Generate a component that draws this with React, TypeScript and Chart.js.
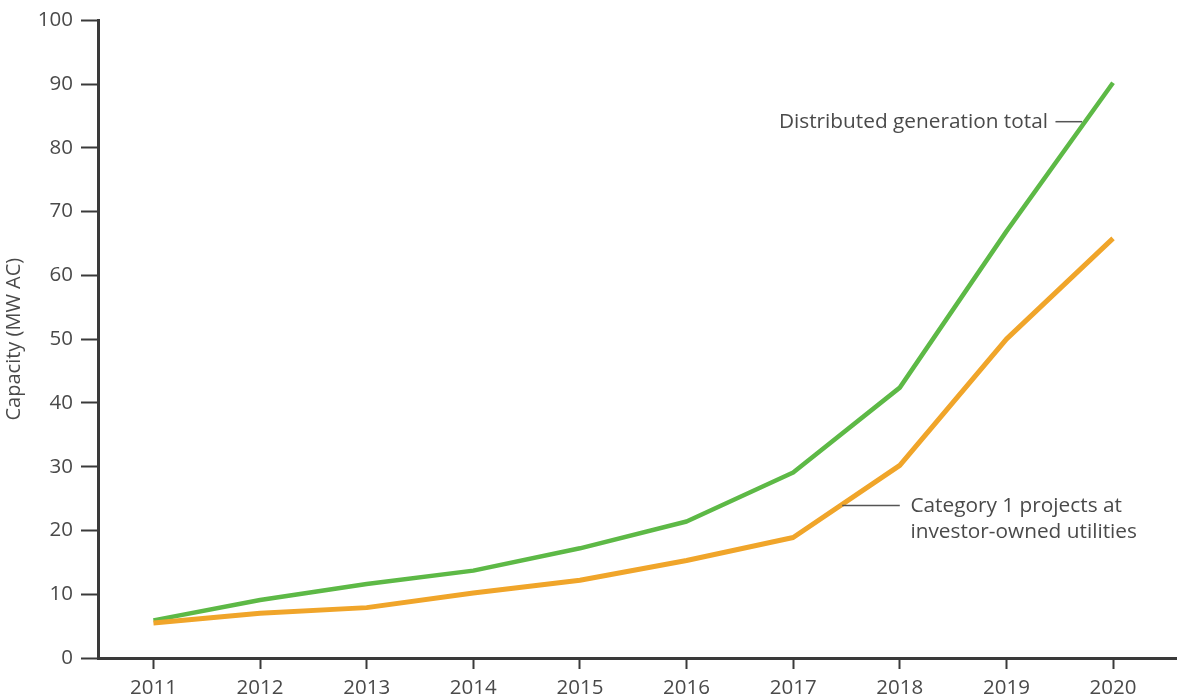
import React, { useEffect, useRef } from "react";
import { Chart, registerables } from "chart.js";

Chart.register(...registerables);

const years = [2011, 2012, 2013, 2014, 2015, 2016, 2017, 2018, 2019, 2020];
const distributedTotal = [5.9, 9.1, 11.6, 13.7, 17.2, 21.4, 29.1, 42.4, 66.9, 90.2];
const category1IOU = [5.5, 7.0, 7.9, 10.2, 12.2, 15.3, 18.9, 30.2, 50.0, 65.8];
const yTicks = [0, 10, 20, 30, 40, 50, 60, 70, 80, 90, 100];

const seriesLabels = ["Distributed generation total", "Category 1 projects at investor-owned utilities"];
const annotationTexts = [
  ["Distributed generation total"],
  ["Category 1 projects at", "investor-owned utilities"],
];
// leader line (x1, x2, y) and text anchor in data units
const annotationSpots = [
  { x1: 2019.46, x2: 2019.71, y: 84.1, tx: 2019.39, align: "right" },
  { x1: 2017.46, x2: 2018.0, y: 23.9, tx: 2018.1, align: "left" },
];

const FONT = "'Open Sans', Lato, sans-serif";
const TEXT = "#4a4a4a";
const AXIS = "#3a3a3a";

const annotationPlugin = {
  id: "leaderLabels",
  afterDatasetsDraw(chart: any) {
    const { ctx, scales } = chart;
    const xs = scales.x;
    const ys = scales.y;
    ctx.save();
    annotationSpots.forEach((s, i) => {
      const y = ys.getPixelForValue(s.y);
      ctx.strokeStyle = "#555";
      ctx.lineWidth = 1.5;
      ctx.beginPath();
      ctx.moveTo(xs.getPixelForValue(s.x1), y);
      ctx.lineTo(xs.getPixelForValue(s.x2), y);
      ctx.stroke();
      ctx.fillStyle = TEXT;
      ctx.font = `20.8px ${FONT}`;
      ctx.textBaseline = "middle";
      ctx.textAlign = s.align as CanvasTextAlign;
      const tx = xs.getPixelForValue(s.tx);
      annotationTexts[i].forEach((line, j) => {
        ctx.fillText(line, tx, y + j * 26);
      });
    });
    ctx.restore();
  },
};

export default function App() {
  const ref = useRef<HTMLCanvasElement>(null);
  useEffect(() => {
    if (!ref.current) return;
    const chart = new Chart(ref.current, {
      type: "line",
      data: {
        datasets: [
          {
            label: seriesLabels[1],
            data: years.map((x, i) => ({ x, y: category1IOU[i] })),
            borderColor: "#F0A52A",
            borderWidth: 5,
            pointRadius: 0,
            tension: 0,
            borderJoinStyle: "round",
          },
          {
            label: seriesLabels[0],
            data: years.map((x, i) => ({ x, y: distributedTotal[i] })),
            borderColor: "#5DB946",
            borderWidth: 4.5,
            pointRadius: 0,
            tension: 0,
            borderJoinStyle: "round",
          },
        ],
      },
      options: {
        animation: false,
        responsive: false,
        maintainAspectRatio: false,
        layout: { padding: { top: 18, right: 0, bottom: 0, left: 0 } },
        plugins: {
          legend: { display: false },
          tooltip: { enabled: false },
        },
        scales: {
          x: {
            type: "linear",
            min: 2010.48,
            max: 2020.6,
            afterBuildTicks: (axis: any) => {
              axis.ticks = years.map((v) => ({ value: v }));
            },
            afterFit: (axis: any) => {
              axis.height = 42;
            },
            grid: {
              drawOnChartArea: false,
              drawTicks: true,
              tickLength: 11,
              tickWidth: 2,
              tickColor: AXIS,
            },
            border: { display: true, color: AXIS, width: 3 },
            ticks: {
              color: TEXT,
              font: { family: FONT, size: 20.5 },
              padding: 7,
              maxRotation: 0,
              autoSkip: false,
              callback: (v: any) => String(v),
            },
          },
          y: {
            min: 0,
            max: 100,
            afterBuildTicks: (axis: any) => {
              axis.ticks = yTicks.map((v) => ({ value: v }));
            },
            afterFit: (axis: any) => {
              axis.width = 98;
            },
            grid: {
              drawOnChartArea: false,
              drawTicks: true,
              tickLength: 17,
              tickWidth: 2,
              tickColor: AXIS,
            },
            border: { display: true, color: AXIS, width: 3 },
            ticks: {
              color: TEXT,
              font: { family: FONT, size: 20.5 },
              padding: 8,
            },
            title: {
              display: true,
              text: "Capacity (MW AC)",
              color: TEXT,
              font: { family: FONT, size: 20 },
              padding: { top: 2, bottom: 0 },
            },
          },
        },
      },
      plugins: [annotationPlugin],
    });
    return () => chart.destroy();
  }, []);
  return (
    <div style={{ position: "fixed", left: 0, top: 0, width: 1177, height: 700, background: "#fff" }}>
      <canvas ref={ref} width={1177} height={700} style={{ display: "block" }} />
    </div>
  );
}
